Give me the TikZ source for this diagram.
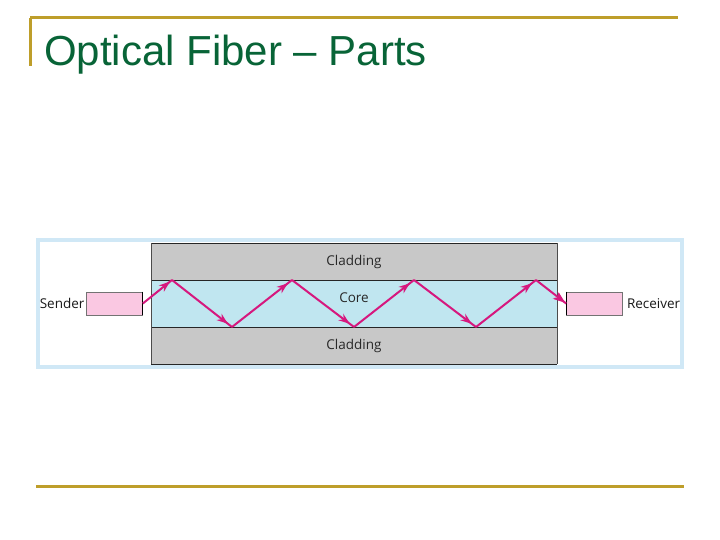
\documentclass[tikz,border=0pt]{standalone}
\usepackage{fontspec}
\setmainfont{Liberation Sans}
\newfontfamily\labfont{Open Sans}
\usetikzlibrary{arrows.meta,decorations.markings}
\definecolor{gold}{RGB}{190,158,42}
\definecolor{titlegreen}{RGB}{8,100,55}
\definecolor{frameblue}{RGB}{208,232,246}
\definecolor{coreblue}{RGB}{192,230,240}
\definecolor{cladgray}{RGB}{200,200,200}
\definecolor{raypink}{RGB}{214,24,126}
\definecolor{boxpink}{RGB}{250,200,226}
\definecolor{labgray}{RGB}{40,40,40}
\tikzset{
  goldline/.style={draw=gold,line width=3pt},
  layer/.style={draw=black!85,line width=1pt},
  endbox/.style={draw=black!55,fill=boxpink,line width=0.7pt},
  lab/.style={font=\labfont\fontsize{13.5}{15}\selectfont,text=labgray,inner sep=0pt},
  ray/.style={draw=raypink,line width=2pt,
    postaction={decorate},
    decoration={markings,mark=at position 0.93 with {\arrow{Stealth[length=11pt,width=8pt]}}}}
}
\begin{document}
\begin{tikzpicture}[x=1pt,y=-1pt]
\useasboundingbox (0,0) rectangle (720,540);
% slide decoration
\coordinate (tl) at (30,18);
\coordinate (tr) at (678,18);
\coordinate (vb) at (30,66);
\draw[goldline] (tl) -- (tr);
\draw[goldline] (tl) -- (vb);
\coordinate (bl) at (36,486);
\coordinate (br) at (684,486);
\draw[goldline] (bl) -- (br);
\node[anchor=base west,inner sep=0pt,text=titlegreen,font=\fontsize{42}{46}\selectfont] (title) at (44,66) {Optical Fiber -- Parts};
% frame
\draw[draw=frameblue,line width=3.5pt,fill=white] (38,240) rectangle (682,367);
% fiber layers
\fill[cladgray] (151,243) rectangle (557,280);
\fill[coreblue] (151,280) rectangle (557,327);
\fill[cladgray] (151,327) rectangle (557,364);
\draw[layer] (151,243) -- (557,243);
\draw[layer] (151,280) -- (557,280);
\draw[layer] (151,327) -- (557,327);
\draw[layer] (151,364) -- (557,364);
\draw[black!70,line width=0.6pt] (151,243) -- (151,364);
\draw[black!70,line width=0.6pt] (557,243) -- (557,364);
\node[lab] (clad1) at (354,262) {Cladding};
\node[lab] (core) at (354,298) {Core};
\node[lab] (clad2) at (354,346) {Cladding};
% end boxes
\node[endbox,minimum width=56pt,minimum height=23pt,inner sep=0pt] (sender) at (114.5,303.5) {};
\node[endbox,minimum width=56pt,minimum height=23pt,inner sep=0pt] (receiver) at (594.5,303.5) {};
\draw[black,line width=0.9pt] (sender.north east) -- (sender.south east);
\draw[black,line width=0.9pt] (receiver.north west) -- (receiver.south west);
\node[lab,anchor=east,text=black!90] (slab) at ([xshift=-1.5pt]sender.west) {Sender};
\node[lab,anchor=west,text=black!90] (rlab) at ([xshift=4pt]receiver.east) {Receiver};
% ray path
\coordinate (s0) at (sender.east);
\coordinate (p1) at (172,280);
\coordinate (p2) at (232,327);
\coordinate (p3) at (292,280);
\coordinate (p4) at (354,327);
\coordinate (p5) at (414,280);
\coordinate (p6) at (476,327);
\coordinate (p7) at (536,280);
\coordinate (r0) at (receiver.west);
\draw[ray] (s0) -- (p1);
\draw[ray] (p1) -- (p2);
\draw[ray] (p2) -- (p3);
\draw[ray] (p3) -- (p4);
\draw[ray] (p4) -- (p5);
\draw[ray] (p5) -- (p6);
\draw[ray] (p6) -- (p7);
\draw[ray,decoration={markings,mark=at position 0.97 with {\arrow{Stealth[length=11pt,width=8pt]}}}] (p7) -- (r0);
\end{tikzpicture}
\end{document}
